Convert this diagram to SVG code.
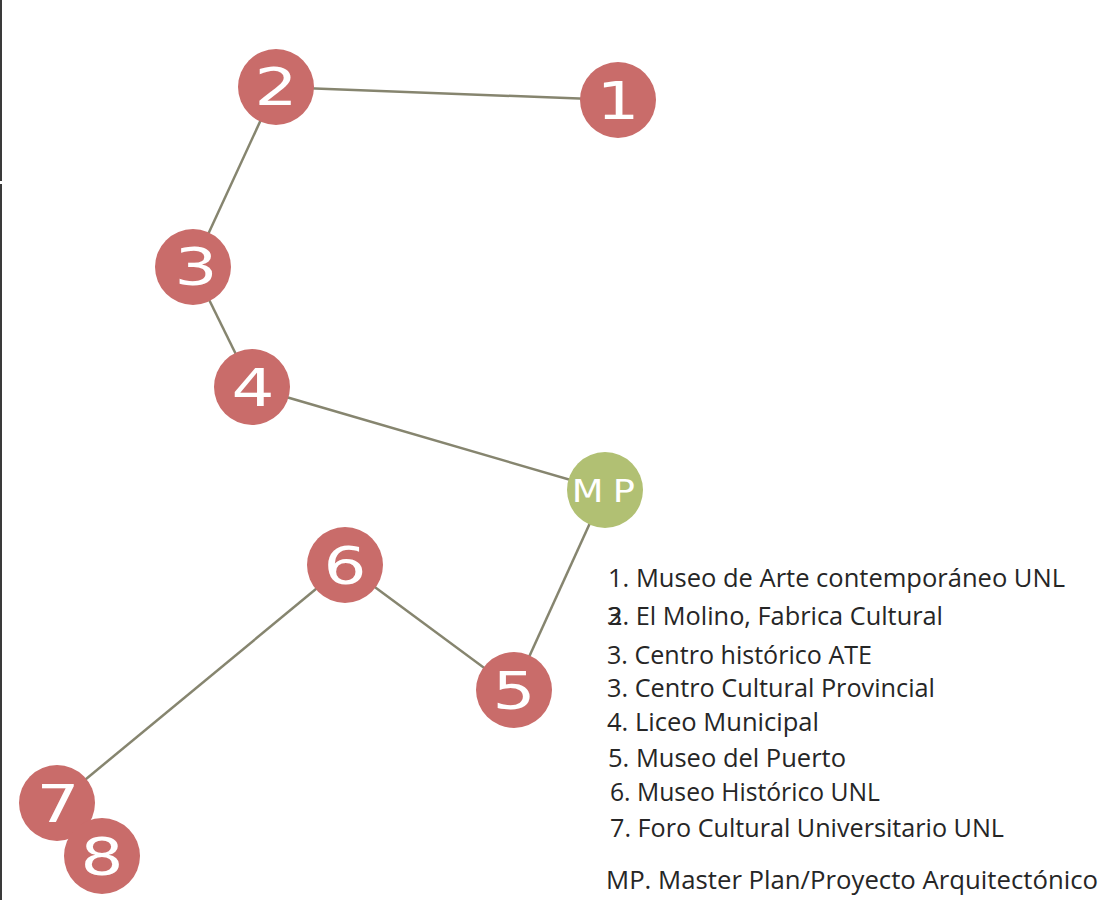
<svg xmlns="http://www.w3.org/2000/svg" width="1109" height="900" viewBox="0 0 1109 900">
<style>
.edge{stroke:#86856f;stroke-width:2.5;fill:none}
.red{fill:#c96c6a}
.green{fill:#b1c073}
.num{font-family:"DejaVu Sans",sans-serif;font-size:52px;fill:#ffffff;text-anchor:middle}
.mp{font-family:"DejaVu Sans",sans-serif;font-size:32px;fill:#ffffff;text-anchor:middle;letter-spacing:8px}
.leg{font-family:"Open Sans","Liberation Sans",sans-serif;font-size:26px;fill:#262626}
</style>
<rect width="1109" height="900" fill="#ffffff"/>
<g id="border">
<line x1="1" y1="0" x2="1" y2="181" stroke="#3a3a3a" stroke-width="2"/>
<line x1="1" y1="184" x2="1" y2="900" stroke="#3a3a3a" stroke-width="2"/>
</g>
<g id="connectors">
<line class="edge" x1="276" y1="87" x2="618" y2="100"/>
<line class="edge" x1="276" y1="87" x2="193" y2="267"/>
<line class="edge" x1="193" y1="267" x2="252" y2="387"/>
<line class="edge" x1="252" y1="387" x2="605" y2="490"/>
<line class="edge" x1="605" y1="490" x2="514" y2="690"/>
<line class="edge" x1="345" y1="565" x2="514" y2="690"/>
<line class="edge" x1="345" y1="565" x2="57" y2="803"/>
</g>
<g id="node1"><circle class="red" cx="618" cy="100" r="38"/><text class="num" transform="translate(618,119) scale(1.3,1)">1</text></g>
<g id="node2"><circle class="red" cx="276" cy="87" r="38"/><text class="num" transform="translate(276,105) scale(1.3,1)">2</text></g>
<g id="node3"><circle class="red" cx="193" cy="267" r="38"/><text class="num" transform="translate(196,285) scale(1.3,1)">3</text></g>
<g id="node4"><circle class="red" cx="252" cy="387" r="38"/><text class="num" transform="translate(253,406) scale(1.3,1)">4</text></g>
<g id="nodeMP"><circle class="green" cx="605" cy="490" r="38"/><text class="mp" transform="translate(608,502) scale(1.15,1)">MP</text></g>
<g id="node6"><circle class="red" cx="345" cy="565" r="38"/><text class="num" transform="translate(345,584) scale(1.3,1)">6</text></g>
<g id="node5"><circle class="red" cx="514" cy="690" r="38"/><text class="num" transform="translate(514,709) scale(1.3,1)">5</text></g>
<g id="node7"><circle class="red" cx="57" cy="803" r="38"/><text class="num" transform="translate(58,822) scale(1.3,1)">7</text></g>
<g id="node8"><circle class="red" cx="102" cy="856" r="38"/><text class="num" transform="translate(102,875) scale(1.3,1)">8</text></g>
<g id="legend">
<text class="leg" x="608" y="587" textLength="457" lengthAdjust="spacingAndGlyphs">1. Museo de Arte contemporáneo UNL</text>
<text class="leg" x="607" y="625">3</text>
<text class="leg" x="608" y="625" textLength="335" lengthAdjust="spacingAndGlyphs">2. El Molino, Fabrica Cultural</text>
<text class="leg" x="607" y="664" textLength="265" lengthAdjust="spacingAndGlyphs">3. Centro histórico ATE</text>
<text class="leg" x="607" y="697" textLength="328" lengthAdjust="spacingAndGlyphs">3. Centro Cultural Provincial</text>
<text class="leg" x="607" y="731" textLength="212" lengthAdjust="spacingAndGlyphs">4. Liceo Municipal</text>
<text class="leg" x="608" y="767" textLength="238" lengthAdjust="spacingAndGlyphs">5. Museo del Puerto</text>
<text class="leg" x="610" y="801" textLength="270" lengthAdjust="spacingAndGlyphs">6. Museo Histórico UNL</text>
<text class="leg" x="610" y="837" textLength="394" lengthAdjust="spacingAndGlyphs">7. Foro Cultural Universitario UNL</text>
<text class="leg" x="606" y="889" textLength="492" lengthAdjust="spacingAndGlyphs">MP. Master Plan/Proyecto Arquitectónico</text>
</g>
</svg>
